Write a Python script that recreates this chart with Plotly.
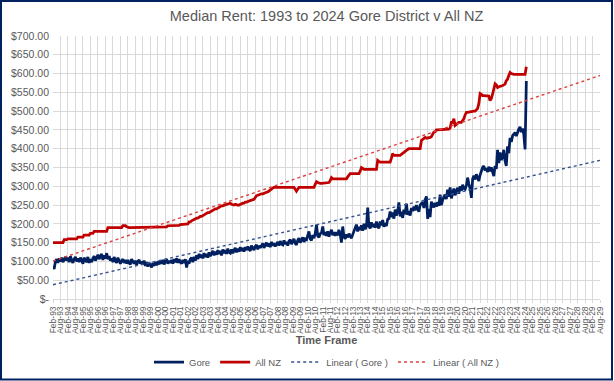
import pandas as pd
import plotly.graph_objects as go

# Monthly median rent, Feb-1993 .. Sep-2024
all_nz = [
    150,150,150,150,150,150,150,150,150,158,157,            # 1993 (Feb-Dec)
    158,160,160,158,160,160,160,160,160,165,165,165,        # 1994
    165,165,170,170,172,170,170,175,175,175,180,180,        # 1995
    180,180,180,180,180,180,180,180,180,190,190,190,        # 1996
    190,190,190,190,190,190,190,190,190,195,195,195,        # 1997
    192,190,190,190,190,190,190,190,190,190,190,190,        # 1998
    190,190,190,190,192,190,190,190,190,190,190,190,        # 1999
    190,190,190,190,190,190,190,190,192,195,195,195,        # 2000
    195,195,195,195,196,196,196,198,198,200,200,200,        # 2001
    200,200,205,205,208,210,210,212,215,215,218,220,        # 2002
    220,222,225,225,228,230,230,232,235,236,238,240,        # 2003
    240,242,245,245,248,248,250,250,252,253,255,255,        # 2004
    252,250,250,252,250,250,250,252,255,255,255,258,        # 2005
    258,260,260,262,263,265,265,270,275,276,278,280,        # 2006
    280,280,282,283,284,285,288,290,292,295,297,297,        # 2007
    297,297,295,297,297,297,297,297,297,297,297,297,        # 2008
    297,297,297,292,287,292,297,297,297,297,297,297,        # 2009
    297,297,297,297,297,297,297,305,312,310,308,308,        # 2010
    308,308,308,308,308,308,310,315,323,320,320,320,        # 2011
    320,320,320,320,320,320,320,320,320,325,330,334,        # 2012
    334,334,334,334,334,334,334,340,350,348,345,345,        # 2013
    345,345,345,345,345,345,345,345,345,369,365,364,        # 2014
    364,364,364,364,364,364,364,364,375,387,382,382,        # 2015
    382,382,383,382,385,388,390,392,396,398,400,400,        # 2016
    400,400,400,400,400,400,400,400,422,425,428,430,        # 2017
    428,428,430,430,432,440,444,445,450,450,450,450,        # 2018
    450,450,450,450,450,450,452,455,470,470,480,462,        # 2019
    465,468,470,470,470,475,480,490,497,497,498,499,        # 2020
    499,500,500,500,505,507,520,547,545,541,541,541,        # 2021
    541,541,540,528,533,545,560,573,570,563,565,565,        # 2022
    567,568,570,572,581,585,595,603,600,598,598,598,        # 2023
    598,598,598,598,598,598,598,598,618,                    # 2024 (Jan-Sep)
]

gore = [
    88,80,100,106,96,108,100,110,98,106,112,                # 1993 (Feb-Dec)
    102,110,98,114,104,96,106,112,100,108,98,110,           # 1994
    103,94,110,102,98,112,96,106,98,108,114,102,            # 1995
    110,118,106,114,120,104,116,108,122,106,114,102,        # 1996
    108,98,112,102,96,110,100,94,102,106,96,104,            # 1997
    94,104,96,92,106,98,94,102,90,100,104,94,               # 1998
    100,92,102,88,98,86,96,90,84,96,88,98,                  # 1999
    90,100,92,102,94,104,92,100,106,94,102,96,              # 2000
    104,94,106,98,108,96,106,98,94,104,96,106,              # 2001
    84,102,94,106,110,98,112,102,116,106,120,110,           # 2002
    118,108,122,112,120,110,124,114,122,128,116,126,        # 2003
    118,130,120,128,116,132,122,130,120,134,124,122,        # 2004
    132,122,130,136,124,134,126,138,128,136,126,138,        # 2005
    130,140,132,128,142,134,130,140,144,132,142,136,        # 2006
    142,148,136,146,150,140,148,138,152,142,148,140,        # 2007
    148,152,142,154,146,144,156,146,152,142,154,158,        # 2008
    146,154,160,148,144,156,162,150,158,164,152,160,        # 2009
    158,168,180,160,156,170,162,174,198,168,164,174,        # 2010
    176,193,170,178,168,180,166,176,184,170,178,168,        # 2011
    178,170,184,172,150,193,166,160,172,164,174,166,        # 2012
    162,172,180,188,198,180,192,184,196,182,200,186,        # 2013
    194,243,194,188,204,192,200,190,206,194,188,206,        # 2014
    196,210,192,202,194,212,214,233,218,230,214,238,        # 2015
    222,234,257,220,232,216,238,226,254,224,234,222,        # 2016
    242,234,246,236,250,240,232,250,256,258,242,264,        # 2017
    273,213,240,218,259,248,244,256,246,258,248,278,        # 2018
    250,264,272,278,266,291,272,297,268,282,294,276,        # 2019
    288,296,280,300,288,304,294,292,302,323,306,294,        # 2020
    269,320,328,318,332,322,314,330,342,350,354,342,        # 2021
    348,338,352,340,350,334,327,354,346,397,362,390,        # 2022
    370,379,397,368,354,406,388,429,418,434,438,443,        # 2023
    434,446,452,458,444,454,438,398,580,                    # 2024 (Jan-Sep)
]

dates = pd.date_range("1993-02-01", periods=len(gore), freq="MS")

# Linear trendlines (endpoints, forecast to Aug-29)
trend_dates = ["1993-02-01", "2029-08-01"]
gore_trend = [38, 369]
nz_trend = [101, 595]

# y-axis ticks
y_vals = list(range(0, 701, 50))
y_text = ["$-"] + [f"${v:,.2f}" for v in y_vals[1:]]

GRID = "#D9D9D9"
TXT = "#595959"
NAVY = "#002060"
RED = "#C00000"
FONT = "Liberation Sans, Arial, sans-serif"

fig = go.Figure()
fig.add_trace(go.Scatter(x=dates, y=gore, mode="lines", name="Gore",
                         line=dict(color=NAVY, width=2.75)))
fig.add_trace(go.Scatter(x=dates, y=all_nz, mode="lines", name="All NZ",
                         line=dict(color=RED, width=2.75)))
fig.add_trace(go.Scatter(x=trend_dates, y=gore_trend, mode="lines", name="Linear ( Gore )",
                         line=dict(color="#34508F", width=1.4, dash="dot")))
fig.add_trace(go.Scatter(x=trend_dates, y=nz_trend, mode="lines", name="Linear ( All NZ )",
                         line=dict(color="#DC4040", width=1.4, dash="dot")))

W, H = 614, 381
ml, mr, mt, mb = 53, 14, 36, 82
pw, ph = W - ml - mr, H - mt - mb

def px_x(p):
    return (p - ml) / pw

def px_y(p):
    return (H - mb - p) / ph

fig.update_layout(
    width=W, height=H,
    margin=dict(l=ml, r=mr, t=mt, b=mb, autoexpand=False),
    paper_bgcolor="white", plot_bgcolor="white",
    font=dict(family=FONT, color=TXT),
    title=dict(text="Median Rent: 1993 to 2024 Gore District v All NZ",
               x=0.5, xref="paper", xanchor="center",
               y=1 - 16 / H, yref="container", yanchor="middle",
               font=dict(size=14.5, color=TXT, family=FONT)),
    showlegend=True,
    legend=dict(orientation="h", x=0.5, xanchor="center", xref="paper",
                y=px_y(362), yanchor="middle",
                font=dict(size=9.5, color=TXT, family=FONT),
                itemwidth=30, tracegroupgap=0, bgcolor="rgba(0,0,0,0)"),
    xaxis=dict(
        type="date",
        automargin=False,
        range=["1993-02-01", "2029-08-01"],
        tick0="1993-02-01", dtick="M6", tickformat="%b-%y",
        tickangle=-90,
        tickfont=dict(size=8.5, color=TXT, family=FONT),
        showgrid=True, gridcolor=GRID, gridwidth=1,
        ticks="outside", ticklen=3, tickcolor=GRID,
        showline=True, linecolor=GRID, linewidth=1,
        zeroline=False,
        title=dict(text="<b>Time Frame</b>", font=dict(size=11, color=TXT, family=FONT),
                   standoff=3),
    ),
    yaxis=dict(
        automargin=False,
        range=[0, 700],
        tickvals=y_vals, ticktext=y_text,
        tickfont=dict(size=10.5, color=TXT, family=FONT),
        showgrid=True, gridcolor=GRID, gridwidth=1,
        zeroline=False, showline=False,
        ticks="", ticklabelstandoff=3,
    ),
    shapes=[dict(type="rect", xref="paper", yref="paper",
                 x0=px_x(1), x1=px_x(612), y0=px_y(379.5), y1=px_y(1),
                 line=dict(color=NAVY, width=2), fillcolor="rgba(0,0,0,0)",
                 layer="above")],
)

fig.write_html("out.html",
               config={"displayModeBar": False},
               post_script="document.body.style.margin='0';document.body.style.padding='0';")
